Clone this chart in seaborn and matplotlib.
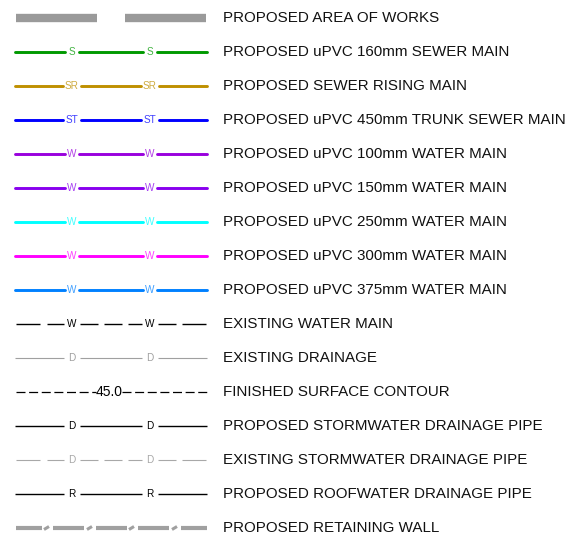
import matplotlib
matplotlib.use("Agg")
import matplotlib.pyplot as plt
import seaborn as sns

# Legend entries, top to bottom
descriptions = [
    "PROPOSED AREA OF WORKS",
    "PROPOSED uPVC 160mm SEWER MAIN",
    "PROPOSED SEWER RISING MAIN",
    "PROPOSED uPVC 450mm TRUNK SEWER MAIN",
    "PROPOSED uPVC 100mm WATER MAIN",
    "PROPOSED uPVC 150mm WATER MAIN",
    "PROPOSED uPVC 250mm WATER MAIN",
    "PROPOSED uPVC 300mm WATER MAIN",
    "PROPOSED uPVC 375mm WATER MAIN",
    "EXISTING WATER MAIN",
    "EXISTING DRAINAGE",
    "FINISHED SURFACE CONTOUR",
    "PROPOSED STORMWATER DRAINAGE PIPE",
    "EXISTING STORMWATER DRAINAGE PIPE",
    "PROPOSED ROOFWATER DRAINAGE PIPE",
    "PROPOSED RETAINING WALL",
]
line_tags = ["", "S", "SR", "ST", "W", "W", "W", "W", "W", "W", "D", "45.0",
             "D", "D", "R", ""]
line_colors = ["#9a9a9a", "#009900", "#bf9000", "#0000ff", "#9900dd", "#8800ee",
               "#00ffff", "#ff00ff", "#0080ff", "#000000", "#a0a0a0", "#000000",
               "#000000", "#a8a8a8", "#000000", "#a0a0a0"]

sns.set_theme(style="white")
plt.rcParams["font.family"] = ["Liberation Sans", "DejaVu Sans"]

fig = plt.figure(figsize=(5.67, 5.40), dpi=100)
ax = fig.add_axes([0, 0, 1, 1])
ax.set_xlim(0, 567)
ax.set_ylim(540, 0)
ax.axis("off")

x0, x1 = 15, 207
tag_x = [72, 150]
row_y0, row_step = 18, 34

# dashed pieces used by the "existing" pipes
dashed_pieces = [(16, 40), (47, 64), (80, 98), (104, 122), (128, 142),
                 (158, 176), (182, 206)]


def segments(half_gap):
    edges = [x0]
    for tx in tag_x:
        edges += [tx - half_gap, tx + half_gap]
    edges.append(x1)
    return [(edges[i], edges[i + 1]) for i in range(0, len(edges), 2)]


for i, (desc, tag, col) in enumerate(zip(descriptions, line_tags, line_colors)):
    y = row_y0 + i * row_step
    ax.text(223, y, desc, fontsize=10.9, va="center", ha="left", color="#111111")

    if i == 0:
        for a, b in [(16, 97), (125, 206)]:
            ax.plot([a, b], [y - 0.5, y - 0.5], color=col, lw=6, solid_capstyle="butt")
        continue
    if i == len(descriptions) - 1:
        for a, b in [(16, 42), (53, 84), (96, 127), (138, 169), (181, 207)]:
            ax.plot([a, b], [y, y], color=col, lw=3, solid_capstyle="butt")
        for a in [44, 87, 129, 172]:
            ax.plot([a, a + 5], [y + 1.5, y - 1.5], color=col, lw=2.2,
                    solid_capstyle="butt")
        continue
    if tag == "45.0":
        for a, b in [(16, 96), (122, 207)]:
            ax.plot([a, b], [y, y], color=col, lw=0.9,
                    linestyle=(0, (7.2, 2.9)), dash_capstyle="butt")
        ax.text(109, y + 0.5, tag, fontsize=10, ha="center", va="center", color=col)
        continue

    if i <= 8:
        half = 9 if len(tag) == 2 else 7
        for a, b in segments(half):
            ax.plot([a, b], [y, y], color=col, lw=2.1, solid_capstyle="round")
        tag_fs, tag_alpha = 7.2, 0.75
    else:
        lw = 0.8 if i in (10, 13) else 1.0
        pieces = dashed_pieces if i in (9, 13) else segments(8)
        for a, b in pieces:
            ax.plot([a, b], [y, y], color=col, lw=lw, solid_capstyle="butt")
        tag_fs, tag_alpha = 7.2, 1
    for tx in tag_x:
        ax.text(tx, y + 0.3, tag, fontsize=tag_fs, ha="center", va="center",
                color=col, alpha=tag_alpha)

fig.savefig("out.png", dpi=100, facecolor="white")
